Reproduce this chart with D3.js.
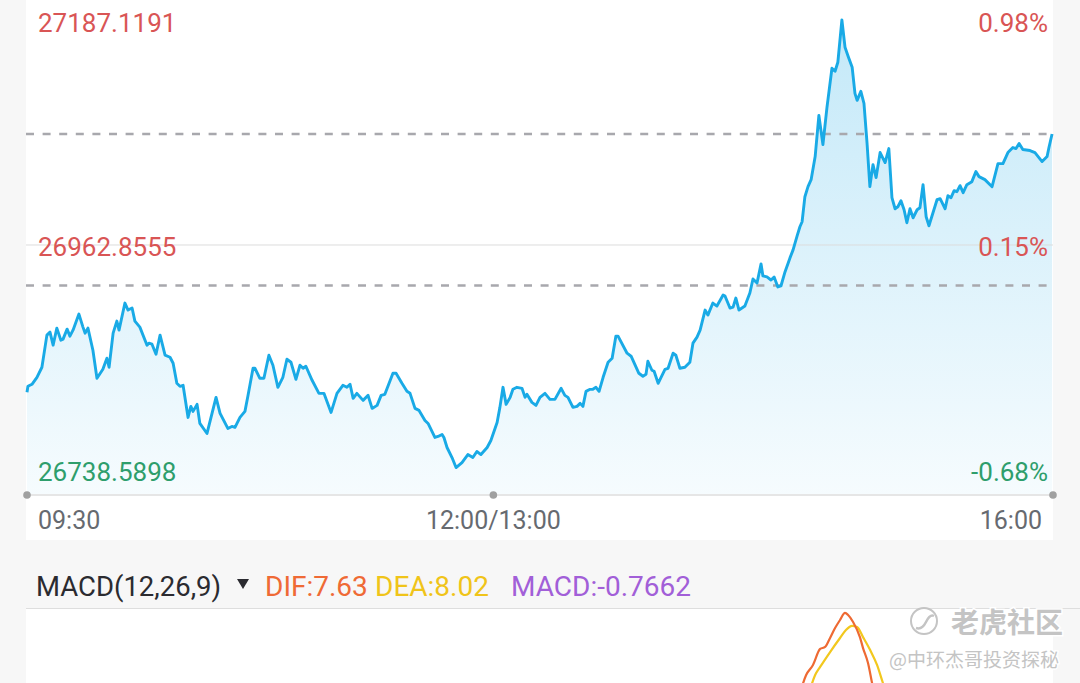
<!DOCTYPE html>
<html>
<head>
<meta charset="utf-8">
<script src="https://cdn.jsdelivr.net/npm/d3@7"></script>
<style>
  html, body { margin: 0; padding: 0; background: #f7f7f7; }
  svg { display: block; font-family: Roboto, "Noto Sans", sans-serif; }
</style>
</head>
<body>
<svg id="chart" width="1080" height="683"></svg>
<script>
// ---------- data ----------
const timeLabels = ["09:30", "12:00/13:00", "16:00"];
const timeLabelMinutes = [0, 150, 330];   // trading minutes from 09:30 (lunch break removed)
const sessionMinutes = 330;

const prevClose = 26922.47;
const priceLevels = [27187.1191, 26962.8555, 26738.5898];   // top, middle, bottom labels
const priceMin = 26738.5898;
const priceMax = 27187.1191;

const minutes = [0,0.3,1.6,3.2,4.8,6.4,7.4,8.4,9.6,10.9,11.6,12.9,13.8,14.8,16.7,18.0,18.7,19.6,21.2,22.5,
24.4,25.7,26.4,27.7,28.9,29.6,31.5,32.5,33.8,34.7,36.3,38.6,39.2,40.2,41.5,42.8,44.4,46.0,47.0,48.2,
49.2,50.2,51.8,52.7,53.4,54.7,55.6,57.9,60.8,62.1,64.6,65.9,66.9,68.5,70.1,71.1,72.7,73.3,74.9,76.2,
77.8,79.1,80.7,82.3,83.6,84.9,86.5,87.8,88.8,89.7,91.7,93.9,95.5,97.8,99.7,101.6,102.9,103.9,104.9,106.1,
108.1,109.7,111.0,112.6,113.9,115.1,117.7,118.7,120.6,122.2,123.2,124.8,126.1,128.0,129.0,131.2,132.2,133.5,134.1,135.1,
136.7,138.0,139.9,141.8,143.4,144.7,146.0,148.0,149.2,151.2,152.1,153.1,154.1,155.4,156.3,157.6,159.2,160.2,160.8,162.4,
163.7,165.0,166.6,168.2,169.8,171.8,173.0,174.0,175.6,176.9,177.9,178.8,179.8,181.1,182.0,183.0,184.0,185.3,186.9,188.2,
189.4,190.1,193.0,194.3,196.8,198.1,199.1,199.7,201.0,201.7,203.0,205.2,206.2,207.8,208.7,210.0,211.6,213.2,214.2,215.5,
216.5,218.1,219.0,220.6,221.9,223.9,224.5,226.1,227.1,228.0,229.0,230.9,232.5,233.5,234.8,236.1,236.7,238.0,239.3,240.3,
241.5,242.5,243.8,245.4,246.4,247.7,248.6,249.3,250.2,251.2,252.2,253.5,254.7,256.0,257.3,258.9,259.9,260.8,262.1,263.1,
264.1,265.4,266.3,267.0,268.2,269.2,270.2,271.1,272.1,273.1,274.4,276.0,277.2,278.2,279.2,280.1,281.1,282.1,283.0,284.0,
285.0,286.3,287.2,288.2,289.2,290.1,291.4,292.7,293.7,295.3,296.2,297.2,298.2,299.1,300.1,301.1,302.3,303.9,305.2,306.2,
308.1,310.4,312.3,313.9,315.5,317.1,318.1,319.1,320.3,322.6,324.2,326.5,328.1,328.7,329.7];

const prices = [26816,26822,26824,26831,26841,26873,26876,26863,26880,26868,26869,26879,26872,26878,26894,26881,26875,26880,26858,26830,
26839,26850,26841,26875,26887,26878,26905,26898,26900,26887,26881,26863,26865,26864,26854,26873,26853,26851,26845,26825,
26822,26823,26791,26802,26797,26804,26785,26775,26811,26795,26780,26782,26781,26791,26797,26813,26840,26840,26830,26830,
26853,26843,26821,26831,26849,26846,26829,26843,26840,26842,26828,26815,26815,26796,26815,26823,26821,26824,26810,26815,
26808,26813,26800,26803,26813,26814,26835,26835,26825,26817,26815,26800,26798,26788,26785,26771,26772,26774,26771,26761,
26751,26741,26746,26754,26751,26757,26754,26761,26768,26786,26801,26821,26804,26811,26819,26821,26820,26811,26814,26806,
26803,26811,26815,26809,26809,26820,26813,26811,26801,26802,26805,26802,26817,26819,26819,26821,26817,26831,26846,26850,
26872,26872,26855,26852,26835,26832,26834,26847,26838,26837,26825,26839,26840,26855,26853,26840,26841,26846,26865,26871,
26878,26898,26893,26905,26902,26913,26912,26900,26901,26910,26898,26902,26915,26929,26925,26944,26932,26931,26928,26931,
26921,26922,26936,26950,26958,26972,26981,26986,27011,27021,27028,27051,27092,27063,27100,27139,27136,27145,27187.1191,27160,
27151,27140,27114,27107,27116,27104,27064,27021,27043,27030,27055,27045,27059,27010,26999,27001,27007,26998,26985,26999,
26990,26998,27000,27023,26991,26982,26995,27008,27009,26999,27012,27010,27017,27016,27022,27015,27023,27026,27036,27031,
27028,27021,27044,27044,27055,27060,27059,27064,27058,27057,27055,27046,27051,27060,27073.5];

// MACD (visible part of the lower panel only)
const macdParams = "MACD(12,26,9)";
const difLast = 7.63, deaLast = 8.02, macdLast = -0.7662;
const difMinutes = [248.9,250.6,252.8,255.1,256.7,258.3,259.9,261.5,263.1,264.1,265.7,267.9,268.9,270.5,271.8,272.4];
const difValues  = [5.0,13.3,18.9,27.8,28.9,33.9,39.4,43.9,47.8,46.7,42.8,34.4,28.3,20.0,8.9,3.9];
const deaMinutes = [251.8,253.5,255.1,258.3,261.5,263.4,265.4,267.0,268.9,271.2,273.4,275.3,276.3];
const deaValues  = [5.0,13.3,17.8,26.1,33.9,38.3,40.6,40.0,34.4,27.2,18.9,8.9,3.9];

// ---------- drawing ----------
const svg = d3.select("#chart");
const W = 1080, H = 683;
const L = 26, R = 1053;

const x = d3.scaleLinear().domain([0, sessionMinutes]).range([27, 1053]);
const y = d3.scaleLinear().domain([priceMin, priceMax]).range([470, 20]);
const axisY = 495;

const red = "#d95555", green = "#2e9e6c";

// backgrounds
svg.append("rect").attr("x", 0).attr("y", 0).attr("width", W).attr("height", H).attr("fill", "#f7f7f7");
svg.append("rect").attr("x", L).attr("y", 0).attr("width", R - L).attr("height", 540).attr("fill", "#ffffff");

// gradient
const defs = svg.append("defs");
const grad = defs.append("linearGradient").attr("id", "areaGrad")
  .attr("gradientUnits", "userSpaceOnUse").attr("x1", 0).attr("x2", 0).attr("y1", 20).attr("y2", axisY);
grad.append("stop").attr("offset", 0).attr("stop-color", "#1ba9e6").attr("stop-opacity", 0.26);
grad.append("stop").attr("offset", 1).attr("stop-color", "#1ba9e6").attr("stop-opacity", 0.04);

const pts = minutes.map((m, i) => [m, prices[i]]);

// area
svg.append("path").datum(pts)
  .attr("fill", "url(#areaGrad)")
  .attr("d", d3.area().x(d => x(d[0])).y0(axisY).y1(d => y(d[1])));

// middle (solid) line
svg.append("line").attr("x1", L).attr("x2", R).attr("y1", y(priceLevels[1])).attr("y2", y(priceLevels[1]))
  .attr("stroke", "#dcdcdc").attr("stroke-width", 1);

// dashed lines: previous close and last price
[prevClose, prices[prices.length - 1]].forEach(v => {
  svg.append("line").attr("x1", L).attr("x2", R).attr("y1", y(v)).attr("y2", y(v))
    .attr("stroke", "#a8a8ad").attr("stroke-width", 2.5).attr("stroke-dasharray", "8,8.6");
});

// price line
svg.append("path").datum(pts)
  .attr("fill", "none").attr("stroke", "#19aae6").attr("stroke-width", 2.9)
  .attr("stroke-linejoin", "round")
  .attr("d", d3.line().x(d => x(d[0])).y(d => y(d[1])));

// y labels
const fmtPct = v => ((v / prevClose - 1) * 100).toFixed(2) + "%";
const labelBase = [32, 256, 481];
priceLevels.forEach((v, i) => {
  const col = v < prevClose ? green : red;
  svg.append("text").attr("x", 38).attr("y", labelBase[i]).attr("fill", col)
    .attr("font-size", 26).text(v.toFixed(4));
  svg.append("text").attr("x", 1048).attr("y", labelBase[i]).attr("fill", col)
    .attr("font-size", 26).attr("text-anchor", "end").text(fmtPct(v));
});

// x axis
svg.append("line").attr("x1", 27).attr("x2", 1053).attr("y1", axisY).attr("y2", axisY)
  .attr("stroke", "#e6e6e6").attr("stroke-width", 2);
timeLabelMinutes.forEach(m => {
  svg.append("circle").attr("cx", x(m)).attr("cy", axisY).attr("r", 3.8).attr("fill", "#a0a0a0");
});
const anchors = ["start", "middle", "end"];
const offs = [11, 0, -11];
timeLabels.forEach((t, i) => {
  svg.append("text").attr("x", x(timeLabelMinutes[i]) + offs[i]).attr("y", 529)
    .attr("text-anchor", anchors[i]).attr("fill", "#666a70").attr("font-size", 25).text(t);
});

// MACD header
svg.append("line").attr("x1", L).attr("x2", W).attr("y1", 608.5).attr("y2", 608.5)
  .attr("stroke", "#dedede").attr("stroke-width", 1);
svg.append("rect").attr("x", L).attr("y", 609).attr("width", R - L).attr("height", H - 609).attr("fill", "#ffffff");

svg.append("text").attr("x", 36).attr("y", 596).attr("font-size", 27.5).attr("fill", "#2b2b30").text(macdParams);
svg.append("path").attr("d", "M237,579 L249,579 L243,589 Z").attr("fill", "#2b2b30");
svg.append("text").attr("x", 265).attr("y", 596).attr("font-size", 28).attr("fill", "#ef6a35").text("DIF:" + difLast.toFixed(2));
svg.append("text").attr("x", 375).attr("y", 596).attr("font-size", 28).attr("fill", "#f0c419").text("DEA:" + deaLast.toFixed(2));
svg.append("text").attr("x", 511).attr("y", 596).attr("font-size", 28).attr("fill", "#a25fd8").text("MACD:" + macdLast.toFixed(4));

// MACD panel lines
const my = d3.scaleLinear().domain([0, 50]).range([699, 609]);
defs.append("clipPath").attr("id", "macdClip").append("rect")
  .attr("x", L).attr("y", 609).attr("width", R - L).attr("height", H - 609);
const mg = svg.append("g").attr("clip-path", "url(#macdClip)");
const mline = d3.line().x(d => x(d[0])).y(d => my(d[1])).curve(d3.curveMonotoneX);
mg.append("path").datum(deaMinutes.map((m, i) => [m, deaValues[i]]))
  .attr("fill", "none").attr("stroke", "#f2c81e").attr("stroke-width", 2.2).attr("d", mline);
mg.append("path").datum(difMinutes.map((m, i) => [m, difValues[i]]))
  .attr("fill", "none").attr("stroke", "#ee6a33").attr("stroke-width", 2.2).attr("d", mline);

// watermark
const wm = svg.append("g").attr("fill", "#c4c4c4").attr("stroke", "#ffffff").attr("stroke-width", 3)
  .attr("paint-order", "stroke").attr("font-family", "'Noto Sans CJK SC', sans-serif");
wm.append("circle").attr("cx", 924).attr("cy", 621).attr("r", 13).attr("fill", "none")
  .attr("stroke", "#c4c4c4").attr("stroke-width", 2);
wm.append("path").attr("d", "M916,628 q6,2 10,-6 q4,-8 8,-6").attr("fill", "none")
  .attr("stroke", "#c4c4c4").attr("stroke-width", 2.5);
wm.append("text").attr("x", 951).attr("y", 633).attr("font-size", 28).attr("font-weight", "bold").text("老虎社区");
wm.append("text").attr("x", 889).attr("y", 667).attr("font-size", 19).text("@中环杰哥投资探秘");
</script>
</body>
</html>
